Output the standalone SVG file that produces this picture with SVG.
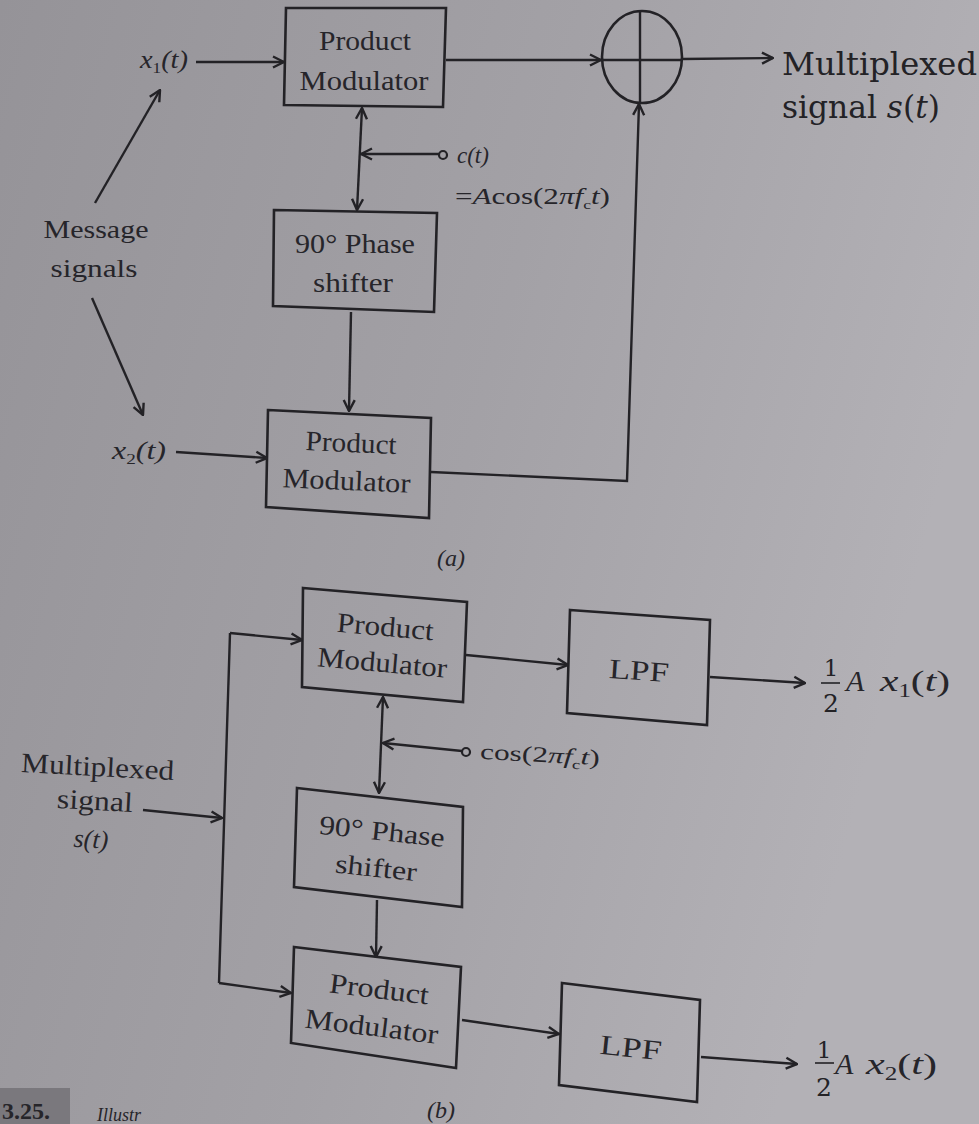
<svg xmlns="http://www.w3.org/2000/svg" width="979" height="1124" viewBox="0 0 979 1124">
<defs>
<linearGradient id="bg" x1="0" y1="0" x2="1" y2="0.3">
<stop offset="0" stop-color="#959398"/>
<stop offset="0.55" stop-color="#a3a1a6"/>
<stop offset="1" stop-color="#b3b1b6"/>
</linearGradient>
<marker id="ah" viewBox="0 0 14 14" refX="13" refY="7" markerWidth="14" markerHeight="14" markerUnits="userSpaceOnUse" orient="auto-start-reverse">
<path d="M2,1.5 L13,7 L2,12.5" fill="none" stroke="#232226" stroke-width="2.4" stroke-linejoin="miter"/>
</marker>
<style>
.box{fill:none;stroke:#232226;stroke-width:2.6;stroke-linejoin:miter}
.ln{fill:none;stroke:#232226;stroke-width:2.4}
.arr{fill:none;stroke:#232226;stroke-width:2.4;marker-end:url(#ah)}
.dbl{fill:none;stroke:#232226;stroke-width:2.4;marker-start:url(#ah);marker-end:url(#ah)}
.t{font-family:"Liberation Serif",serif;fill:#26252a}
.bt{font-family:"DejaVu Serif",serif;fill:#232226}
.it{font-style:italic}
.up{font-style:normal}
.term{fill:none;stroke:#232226;stroke-width:2.2}
</style>
</defs>
<rect x="0" y="0" width="979" height="1124" fill="url(#bg)"/>

<!-- ===== (a) ===== -->
<g id="pm1">
<polygon class="box" points="286,8 446,8 443,107 284,105"/>
<text class="t" x="365" y="50" font-size="28" text-anchor="middle" textLength="92" lengthAdjust="spacingAndGlyphs">Product</text>
<text class="t" x="364" y="90" font-size="28" text-anchor="middle" textLength="129" lengthAdjust="spacingAndGlyphs">Modulator</text>
</g>
<g id="sum">
<ellipse class="box" cx="642" cy="57" rx="40" ry="46"/>
<line class="ln" x1="602" y1="60" x2="682" y2="60"/>
<line class="ln" x1="640" y1="11" x2="640" y2="103"/>
</g>
<g id="ps1">
<polygon class="box" points="274,210 437,213 434,312 273,306"/>
<text class="t" x="355" y="253" font-size="27" text-anchor="middle" textLength="120" lengthAdjust="spacingAndGlyphs">90° Phase</text>
<text class="t" x="353" y="292" font-size="27" text-anchor="middle" textLength="80" lengthAdjust="spacingAndGlyphs">shifter</text>
</g>
<g id="pm2">
<polygon class="box" points="268,410 431,418 429,518 266,507"/>
<g transform="rotate(2.5 348 470)">
<text class="t" x="350" y="452" font-size="28" text-anchor="middle" textLength="91" lengthAdjust="spacingAndGlyphs">Product</text>
<text class="t" x="347" y="490" font-size="28" text-anchor="middle" textLength="128" lengthAdjust="spacingAndGlyphs">Modulator</text>
</g>
</g>
<g id="labels-a">
<text class="t it" x="140" y="68" font-size="25" textLength="48" lengthAdjust="spacingAndGlyphs">x<tspan font-size="15" dy="5" class="up">1</tspan><tspan dy="-5">(t)</tspan></text>
<text class="t" x="96" y="238" font-size="26" text-anchor="middle" textLength="105" lengthAdjust="spacingAndGlyphs">Message</text>
<text class="t" x="94" y="277" font-size="26" text-anchor="middle" textLength="87" lengthAdjust="spacingAndGlyphs">signals</text>
<text class="t it" x="112" y="459" font-size="25" textLength="54" lengthAdjust="spacingAndGlyphs">x<tspan font-size="15" dy="5" class="up">2</tspan><tspan dy="-5">(t)</tspan></text>
<text class="t it" x="457" y="163" font-size="23">c(t)</text>
<text class="t" x="455" y="204" font-size="23" textLength="155" lengthAdjust="spacingAndGlyphs">=<tspan class="it">A</tspan>cos(2<tspan class="it">πf</tspan><tspan font-size="13" dy="5">c</tspan><tspan class="it" dy="-5">t</tspan>)</text>
<text class="bt" x="782" y="75" font-size="31" textLength="195" lengthAdjust="spacingAndGlyphs">Multiplexed</text>
<text class="bt" x="782" y="118" font-size="31" textLength="158" lengthAdjust="spacingAndGlyphs">signal <tspan class="it">s</tspan>(<tspan class="it">t</tspan>)</text>
<text class="t it" x="451" y="566" font-size="24" text-anchor="middle">(a)</text>
</g>

<!-- ===== (b) ===== -->
<g id="pm3">
<polygon class="box" points="303,588 467,602 463,702 302,687"/>
<g transform="rotate(5 383 655)">
<text class="t" x="383" y="636" font-size="28" text-anchor="middle" textLength="97" lengthAdjust="spacingAndGlyphs">Product</text>
<text class="t" x="383" y="672" font-size="28" text-anchor="middle" textLength="130" lengthAdjust="spacingAndGlyphs">Modulator</text>
</g>
</g>
<g id="lpf1">
<polygon class="box" points="570,610 710,620 707,725 567,713"/>
<text class="t" x="639" y="680" font-size="28" text-anchor="middle" textLength="60" lengthAdjust="spacingAndGlyphs" transform="rotate(4 639 670)">LPF</text>
</g>
<g id="ps2">
<polygon class="box" points="297,788 463,807 462,907 294,887"/>
<g transform="rotate(6 378 850)">
<text class="t" x="380" y="840" font-size="27" text-anchor="middle" textLength="126" lengthAdjust="spacingAndGlyphs">90° Phase</text>
<text class="t" x="378" y="877" font-size="27" text-anchor="middle" textLength="82" lengthAdjust="spacingAndGlyphs">shifter</text>
</g>
</g>
<g id="pm4">
<polygon class="box" points="294,947 461,967 456,1068 291,1043"/>
<g transform="rotate(7 374 1015)">
<text class="t" x="376" y="998" font-size="28" text-anchor="middle" textLength="100" lengthAdjust="spacingAndGlyphs">Product</text>
<text class="t" x="373" y="1036" font-size="28" text-anchor="middle" textLength="134" lengthAdjust="spacingAndGlyphs">Modulator</text>
</g>
</g>
<g id="lpf2">
<polygon class="box" points="562,983 700,1000 697,1102 559,1085"/>
<text class="t" x="631" y="1057" font-size="28" text-anchor="middle" textLength="62" lengthAdjust="spacingAndGlyphs" transform="rotate(6 631 1045)">LPF</text>
</g>
<g id="labels-b">
<g transform="rotate(3 96 800)">
<text class="t" x="96" y="776" font-size="28" text-anchor="middle" textLength="153" lengthAdjust="spacingAndGlyphs">Multiplexed</text>
<text class="t" x="95" y="810" font-size="28" text-anchor="middle" textLength="76" lengthAdjust="spacingAndGlyphs">signal</text>
<text class="t it" x="93" y="848" font-size="26" text-anchor="middle">s(t)</text>
</g>
<text class="t" x="480" y="762" font-size="22" textLength="120" lengthAdjust="spacingAndGlyphs" transform="rotate(3 540 755)">cos(2<tspan class="it">πf</tspan><tspan font-size="13" dy="5">c</tspan><tspan class="it" dy="-5">t</tspan>)</text>
<text class="bt" x="831" y="676" font-size="23" text-anchor="middle">1</text>
<line x1="821" y1="683" x2="840" y2="683" stroke="#232226" stroke-width="1.6"/>
<text class="bt" x="831" y="712" font-size="25" text-anchor="middle">2</text>
<text class="t it" x="846" y="691" font-size="30">A</text>
<text class="t it" x="880" y="691" font-size="30" textLength="70" lengthAdjust="spacingAndGlyphs">x<tspan font-size="18" dy="6" class="up">1</tspan><tspan dy="-6" class="up">(</tspan>t<tspan class="up">)</tspan></text>
<text class="bt" x="824" y="1058" font-size="23" text-anchor="middle">1</text>
<line x1="815" y1="1063" x2="834" y2="1063" stroke="#232226" stroke-width="1.6"/>
<text class="bt" x="824" y="1096" font-size="25" text-anchor="middle">2</text>
<text class="t it" x="835" y="1074" font-size="30">A</text>
<text class="t it" x="866" y="1074" font-size="30" textLength="71" lengthAdjust="spacingAndGlyphs">x<tspan font-size="18" dy="6" class="up">2</tspan><tspan dy="-6" class="up">(</tspan>t<tspan class="up">)</tspan></text>
<text class="t it" x="441" y="1118" font-size="24" text-anchor="middle">(b)</text>
<rect x="0" y="1088" width="70" height="36" fill="#7a787d"/>
<text class="t" x="2" y="1119" font-size="24" font-weight="bold" fill="#2e2d31">3.25.</text>
<text class="t it" x="97" y="1121" font-size="18">Illustr</text>
</g>

<!-- ===== connectors ===== -->
<g id="connectors">
<!-- (a) -->
<line class="arr" x1="196" y1="62" x2="284" y2="62"/>
<line class="arr" x1="446" y1="60" x2="601" y2="60"/>
<line class="arr" x1="682" y1="59" x2="773" y2="58"/>
<line class="arr" x1="95" y1="203" x2="160" y2="90"/>
<line class="arr" x1="92" y1="298" x2="143" y2="415"/>
<line class="dbl" x1="362" y1="108" x2="357" y2="210"/>
<line class="arr" x1="439" y1="154" x2="361" y2="154"/>
<circle class="term" cx="443" cy="155" r="4"/>
<line class="arr" x1="351" y1="312" x2="349" y2="411"/>
<line class="arr" x1="176" y1="452" x2="267" y2="458"/>
<polyline class="arr" points="431,472 627,481 639,104"/>
<!-- (b) -->
<line class="arr" x1="143" y1="810" x2="222" y2="818"/>
<line class="ln" x1="230" y1="633" x2="219" y2="983"/>
<line class="arr" x1="230" y1="633" x2="302" y2="640"/>
<line class="arr" x1="219" y1="983" x2="291" y2="993"/>
<line class="arr" x1="466" y1="655" x2="568" y2="665"/>
<line class="arr" x1="710" y1="677" x2="805" y2="683"/>
<line class="dbl" x1="383" y1="697" x2="379" y2="793"/>
<line class="arr" x1="462" y1="751" x2="383" y2="743"/>
<circle class="term" cx="466" cy="752" r="4"/>
<line class="arr" x1="377" y1="900" x2="376" y2="957"/>
<line class="arr" x1="462" y1="1020" x2="559" y2="1034"/>
<line class="arr" x1="701" y1="1057" x2="797" y2="1064"/>
</g>
</svg>
